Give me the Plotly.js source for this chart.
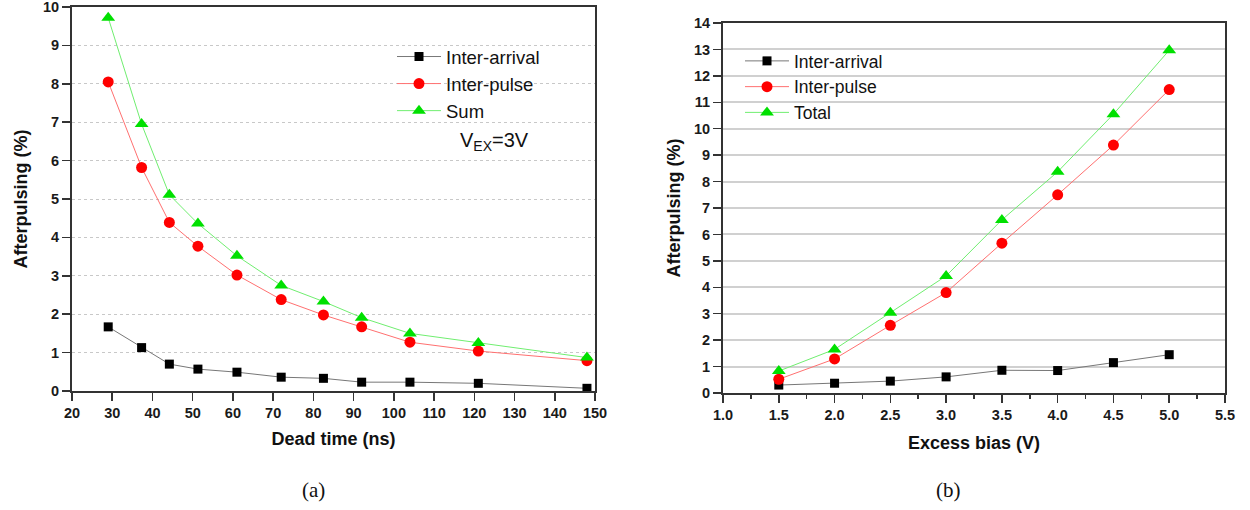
<!DOCTYPE html>
<html><head><meta charset="utf-8">
<script src="https://cdn.plot.ly/plotly-3.0.1.min.js"></script>
<style>body{margin:0;background:#fff}#chart{width:1250px;height:510px}</style>
</head><body><div id="chart"></div>
<script>
const deadTime = [29, 37.3, 44.2, 51.3, 61, 72, 82.5, 92, 104, 121, 148];
const deadInterArrival = [1.67, 1.13, 0.70, 0.57, 0.49, 0.36, 0.33, 0.23, 0.23, 0.20, 0.07];
const deadInterPulse = [8.05, 5.82, 4.39, 3.77, 3.02, 2.38, 1.98, 1.67, 1.27, 1.04, 0.79];
const deadSum = [9.72, 6.95, 5.11, 4.36, 3.52, 2.75, 2.33, 1.91, 1.50, 1.25, 0.87];

const excessBias = [1.5, 2.0, 2.5, 3.0, 3.5, 4.0, 4.5, 5.0];
const biasInterArrival = [0.30, 0.37, 0.45, 0.61, 0.86, 0.85, 1.15, 1.45];
const biasInterPulse = [0.52, 1.29, 2.56, 3.80, 5.67, 7.50, 9.38, 11.48];
const biasTotal = [0.83, 1.65, 3.04, 4.43, 6.55, 8.37, 10.55, 12.97];

const namesA = ['Inter-arrival', 'Inter-pulse', 'Sum'];
const namesB = ['Inter-arrival', 'Inter-pulse', 'Total'];
const captions = ['(a)', '(b)'];

const markerColors = ['#000000', '#ff0000', '#00e000'];
const lineColors = ['#777777', '#ff7070', '#70ee70'];
const symbols = ['square', 'circle', 'triangle-up'];
const sizes = [9, 11, 12];

const W = 1250, H = 510;
const fx = p => p / W, fy = p => 1 - p / H;

function tf() { return {family: 'Liberation Sans', size: 14.5, color: '#1a1a1a', weight: 700}; }
const titleFont = {family: 'Liberation Sans', size: 18, color: '#111', weight: 'bold'};
const legFont = {family: 'Liberation Sans', size: 18.5, color: '#111'};

function mk(x, y, i, name, xa, ya, leg) {
  return {x: x, y: y, name: name, type: 'scatter', mode: 'lines+markers', xaxis: xa, yaxis: ya, legend: leg,
    line: {color: lineColors[i], width: 1},
    marker: {color: markerColors[i], symbol: symbols[i], size: sizes[i], line: {width: 0}}};
}
const ys = [deadInterArrival, deadInterPulse, deadSum];
const yb = [biasInterArrival, biasInterPulse, biasTotal];
const traces = [];
for (let i = 0; i < 3; i++) traces.push(mk(deadTime, ys[i], i, namesA[i], 'x', 'y', 'legend'));
for (let i = 0; i < 3; i++) traces.push(mk(excessBias, yb[i], i, namesB[i], 'x2', 'y2', 'legend2'));

const lineCol = '#333333';
function base(extra) {
  return Object.assign({showline: true, linecolor: lineCol, linewidth: 2, ticks: 'outside', ticklen: 8, tickwidth: 1.5, tickcolor: lineCol,
    tickfont: tf(), tickprefix: '<b>', ticksuffix: '</b>', zeroline: false, fixedrange: true, ticklabeloverflow: 'allow'}, extra);
}

const domA = {x: [fx(72), fx(595)], y: [fy(391), fy(7)]};
const domB = {x: [fx(723), fx(1225)], y: [fy(393), fy(23)]};

const layout = {
  width: W, height: H, margin: {l: 0, r: 0, t: 0, b: 0, pad: 0},
  paper_bgcolor: '#fff', plot_bgcolor: '#fff', showlegend: true,
  xaxis: base({domain: domA.x, anchor: 'y', range: [20, 150], dtick: 10, tick0: 20, showgrid: false, mirror: true,
    title: {text: 'Dead time (ns)', font: titleFont, standoff: 12}}),
  yaxis: base({domain: domA.y, anchor: 'x', range: [0, 10], dtick: 1, mirror: true,
    showgrid: true, gridcolor: '#c8c8c8', griddash: 'dot', gridwidth: 1,
    title: {text: 'Afterpulsing (%)', font: titleFont, standoff: 11}}),
  xaxis3: base({domain: domA.x, anchor: 'y', overlaying: 'x', side: 'top', range: [20, 150], dtick: 10, tick0: 20,
    ticks: 'inside', showticklabels: false, showline: false, showgrid: false}),
  yaxis3: base({domain: domA.y, anchor: 'x', overlaying: 'y', side: 'right', range: [0, 10], dtick: 1,
    ticks: 'inside', showticklabels: false, showline: false, showgrid: false}),

  xaxis2: base({domain: domB.x, anchor: 'y2', range: [1.0, 5.5], dtick: 0.5, tick0: 1, tickformat: '.1f', showgrid: false, mirror: true,
    minor: {dtick: 0.25, ticks: 'outside', ticklen: 4, tickcolor: lineCol, tickwidth: 1.5, showgrid: false},
    title: {text: 'Excess bias (V)', font: titleFont, standoff: 14}}),
  yaxis2: base({domain: domB.y, anchor: 'x2', range: [0, 14], dtick: 1, mirror: true,
    showgrid: true, gridcolor: '#d0d0d0', gridwidth: 2,
    title: {text: 'Afterpulsing (%)', font: titleFont, standoff: 9}}),
  xaxis4: base({domain: domB.x, anchor: 'y2', overlaying: 'x2', side: 'top', range: [1.0, 5.5], dtick: 0.5, tick0: 1,
    ticks: 'inside', showticklabels: false, showline: false, showgrid: false,
    minor: {dtick: 0.25, ticks: 'inside', ticklen: 4, tickcolor: lineCol, tickwidth: 1.5, showgrid: false}}),
  yaxis4: base({domain: domB.y, anchor: 'x2', overlaying: 'y2', side: 'right', range: [0, 14], dtick: 1,
    ticks: 'inside', showticklabels: false, showline: false, showgrid: false}),

  legend: {x: fx(392), y: fy(38), xanchor: 'left', yanchor: 'top', bgcolor: 'rgba(0,0,0,0)', font: legFont,
    itemwidth: 44, tracegroupgap: 0},
  legend2: {x: fx(740), y: fy(43), xanchor: 'left', yanchor: 'top', bgcolor: 'rgba(0,0,0,0)', font: Object.assign({}, legFont, {size: 17.5}),
    itemwidth: 44, tracegroupgap: 0},
  annotations: [
    {xref: 'paper', yref: 'paper', x: fx(494), y: fy(141), text: 'V<sub>EX</sub>=3V', showarrow: false,
      font: {family: 'Liberation Sans', size: 20, color: '#111'}, xanchor: 'center', yanchor: 'middle'},
    {xref: 'paper', yref: 'paper', x: fx(313), y: fy(490), text: captions[0], showarrow: false,
      font: {family: 'Liberation Serif', size: 21, color: '#111'}, xanchor: 'center', yanchor: 'middle'},
    {xref: 'paper', yref: 'paper', x: fx(948), y: fy(490), text: captions[1], showarrow: false,
      font: {family: 'Liberation Serif', size: 21, color: '#111'}, xanchor: 'center', yanchor: 'middle'}
  ]
};

Plotly.newPlot('chart', traces, layout, {displayModeBar: false, staticPlot: true});
</script></body></html>
